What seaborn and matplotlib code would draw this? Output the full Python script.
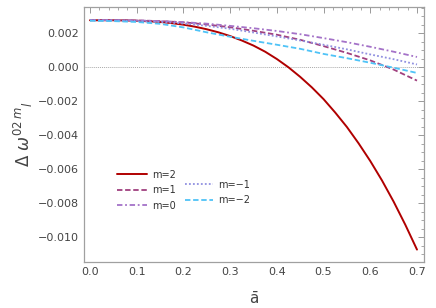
import numpy as np
import pandas as pd
import matplotlib
matplotlib.use("Agg")
import matplotlib.pyplot as plt
from matplotlib.ticker import MultipleLocator
import seaborn as sns

# values
a_fine = [0.000, 0.025, 0.050, 0.075, 0.100, 0.125, 0.150, 0.175, 0.200, 0.225, 0.250, 0.275,
          0.300, 0.325, 0.350, 0.375, 0.400, 0.425, 0.450, 0.475, 0.500, 0.525, 0.550, 0.575,
          0.600, 0.625, 0.650, 0.675, 0.700]
m2 = [0.00275, 0.00275, 0.00275, 0.00274, 0.00272, 0.00269, 0.00265, 0.00258, 0.00249, 0.00237,
      0.00222, 0.00204, 0.00182, 0.00156, 0.00126, 0.00090, 0.00047, -0.00002, -0.00058, -0.00120,
      -0.00189, -0.00268, -0.00353, -0.00449, -0.00553, -0.00667, -0.00792, -0.00928, -0.01074]

a_grid = [0.00, 0.05, 0.10, 0.15, 0.20, 0.25, 0.30, 0.35, 0.40, 0.45, 0.50, 0.55, 0.60, 0.65, 0.70]
m1 = [0.00276, 0.00276, 0.00274, 0.00270, 0.00263, 0.00250, 0.00234, 0.00213, 0.00190, 0.00160,
      0.00123, 0.00083, 0.00039, -0.00015, -0.00080]
m0 = [0.00276, 0.00276, 0.00274, 0.00270, 0.00264, 0.00255, 0.00242, 0.00228, 0.00212, 0.00193,
      0.00170, 0.00146, 0.00119, 0.00090, 0.00059]
m_1 = [0.00275, 0.00274, 0.00271, 0.00265, 0.00256, 0.00242, 0.00225, 0.00203, 0.00180, 0.00156,
       0.00131, 0.00104, 0.00074, 0.00046, 0.00015]
m_2 = [0.00272, 0.00270, 0.00265, 0.00254, 0.00233, 0.00204, 0.00178, 0.00154, 0.00131, 0.00107,
       0.00077, 0.00052, 0.00025, -0.00004, -0.00035]

labels = ["m=2", "m=1", "m=0", "m=\u22121", "m=\u22122"]
colors = ["#b00000", "#a0407f", "#a472c8", "#9090e0", "#4fc3f7"]
styles = ["-", (0, (3, 1.5)), (0, (3, 1.5, 1, 1.5)), (0, (1, 1.2)), (0, (3, 1.5))]

sns.set_style("white")
plt.rcParams["font.family"] = ["DejaVu Sans"]

fig = plt.figure(figsize=(4.36, 3.08), dpi=100)
ax = fig.add_axes([84 / 436, 1 - 262 / 308, 340 / 436, 255 / 308])

series = [(a_fine, m2), (a_grid, m1), (a_grid, m0), (a_grid, m_1), (a_grid, m_2)]
handles = []
for (xs, ys), lab, c, ls in zip(series, labels, colors, styles):
    df = pd.DataFrame({"a": xs, "v": ys})
    sns.lineplot(data=df, x="a", y="v", ax=ax, color=c, linewidth=1.4 if ls == "-" else 1.3,
                 linestyle=ls, label=lab, legend=False)
    handles.append(ax.lines[-1])

ax.axhline(0, color="#aaaaaa", lw=0.7, ls=(0, (1, 1)), zorder=0)

ax.set_xlim(-0.0128, 0.715)
ax.set_ylim(-0.01147, 0.00353)
ax.xaxis.set_major_locator(MultipleLocator(0.1))
ax.xaxis.set_minor_locator(MultipleLocator(0.02))
ax.yaxis.set_major_locator(MultipleLocator(0.002))
ax.yaxis.set_minor_locator(MultipleLocator(0.0005))
ax.xaxis.set_major_formatter(plt.FormatStrFormatter("%.1f"))
ax.yaxis.set_major_formatter(plt.FuncFormatter(lambda v, p: ("%.3f" % v).replace("-", "\u2212") if abs(v) > 1e-9 else "0.000"))
ax.tick_params(which="both", direction="in", top=True, right=True, color="#999999",
               labelsize=8, labelcolor="#444444")
ax.tick_params(which="major", length=4, width=0.7)
ax.tick_params(which="minor", length=2, width=0.6)
for s in ax.spines.values():
    s.set_color("#a0a0a0")
    s.set_linewidth(0.9)

ax.set_xlabel("$\\bar{\\mathrm{a}}$", fontsize=11, color="#444444", labelpad=10)
ax.set_ylabel(r"$\Delta\ \omega^{02\,m}{}_{l}$", fontsize=12, color="#444444", labelpad=2)

leg1 = ax.legend(handles[:3], labels[:3], loc="upper left", bbox_to_anchor=(112 / 436, 1 - 165 / 308),
                 bbox_transform=fig.transFigure, frameon=False, fontsize=7, borderpad=0,
                 handlelength=3.1, handletextpad=0.5, labelspacing=0.55, labelcolor="#333333")
ax.add_artist(leg1)
ax.legend(handles[3:], labels[3:], loc="upper left", bbox_to_anchor=(180 / 436, 1 - 175 / 308),
          bbox_transform=fig.transFigure, frameon=False, fontsize=7, borderpad=0,
          handlelength=2.9, handletextpad=0.5, labelspacing=0.55, labelcolor="#333333")

fig.savefig("out.png", dpi=100)
